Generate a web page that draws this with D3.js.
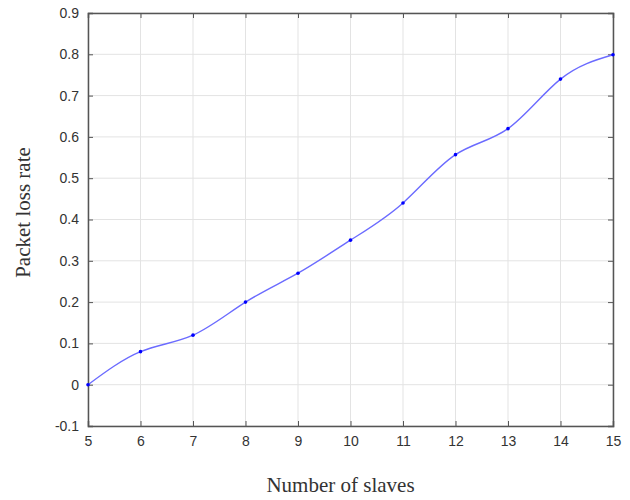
<!DOCTYPE html>
<html><head><meta charset="utf-8">
<script src="https://cdn.jsdelivr.net/npm/d3@7"></script>
<style>body{margin:0;background:#fff}</style>
</head><body>
<svg id="c" width="630" height="500"></svg>
<script>
const slaves = [5,6,7,8,9,10,11,12,13,14,15];
const lossRate = [0,0.08,0.12,0.2,0.27,0.35,0.44,0.557,0.62,0.74,0.799];
const xTicks = [5,6,7,8,9,10,11,12,13,14,15];
const yTicks = [-0.1,0,0.1,0.2,0.3,0.4,0.5,0.6,0.7,0.8,0.9];

const svg = d3.select("#c");
const L=88,R=613,T=13,B=426;
const x = d3.scaleLinear().domain([5,15]).range([L,R]);
const y = d3.scaleLinear().domain([-0.1,0.9]).range([B,T]);

const g = svg.append("g");
g.selectAll(".gx").data(xTicks).join("line").attr("x1",d=>x(d)).attr("x2",d=>x(d)).attr("y1",T).attr("y2",B).attr("stroke","#e3e3e3").attr("stroke-width",1);
g.selectAll(".gy").data(yTicks).join("line").attr("y1",d=>y(d)).attr("y2",d=>y(d)).attr("x1",L).attr("x2",R).attr("stroke","#e3e3e3").attr("stroke-width",1);

const ax = svg.append("g").attr("transform",`translate(0,${B})`).call(d3.axisBottom(x).tickValues(xTicks).tickSize(-5).tickPadding(10).tickFormat(d3.format("d")));
const axTop = svg.append("g").attr("transform",`translate(0,${T})`).call(d3.axisTop(x).tickValues(xTicks).tickSize(-5).tickFormat(""));
const ay = svg.append("g").attr("transform",`translate(${L},0)`).call(d3.axisLeft(y).tickValues(yTicks).tickSize(-5).tickPadding(9).tickFormat(d=>String(+d.toFixed(1))));
const ayR = svg.append("g").attr("transform",`translate(${R},0)`).call(d3.axisRight(y).tickValues(yTicks).tickSize(-5).tickFormat(""));
[ax,axTop,ay,ayR].forEach(a=>{
  a.select(".domain").attr("stroke","#555").attr("stroke-width",1.5);
  a.selectAll(".tick line").attr("stroke","#555");
  a.selectAll("text").attr("font-family","Liberation Sans, Arial, sans-serif").attr("font-size",14).attr("fill","#333");
});

const line = d3.line().x((d,i)=>x(slaves[i])).y(d=>y(d)).curve(d3.curveNatural);
svg.append("path").datum(lossRate).attr("d",line).attr("fill","none").attr("stroke","#6b6bff").attr("stroke-width",1.4);
svg.selectAll(".pt").data(lossRate).join("circle").attr("cx",(d,i)=>x(slaves[i])).attr("cy",d=>y(d)).attr("r",1.8).attr("fill","#0000ff");

svg.append("text").attr("x",(L+R)/2-10).attr("y",492).attr("text-anchor","middle").attr("font-family","Liberation Serif, Times New Roman, serif").attr("font-size",21).attr("fill","#333").text("Number of slaves");
svg.append("text").attr("transform",`translate(30,${(T+B)/2-7}) rotate(-90)`).attr("text-anchor","middle").attr("font-family","Liberation Serif, Times New Roman, serif").attr("font-size",21).attr("fill","#333").text("Packet loss rate");
</script>
</body></html>
